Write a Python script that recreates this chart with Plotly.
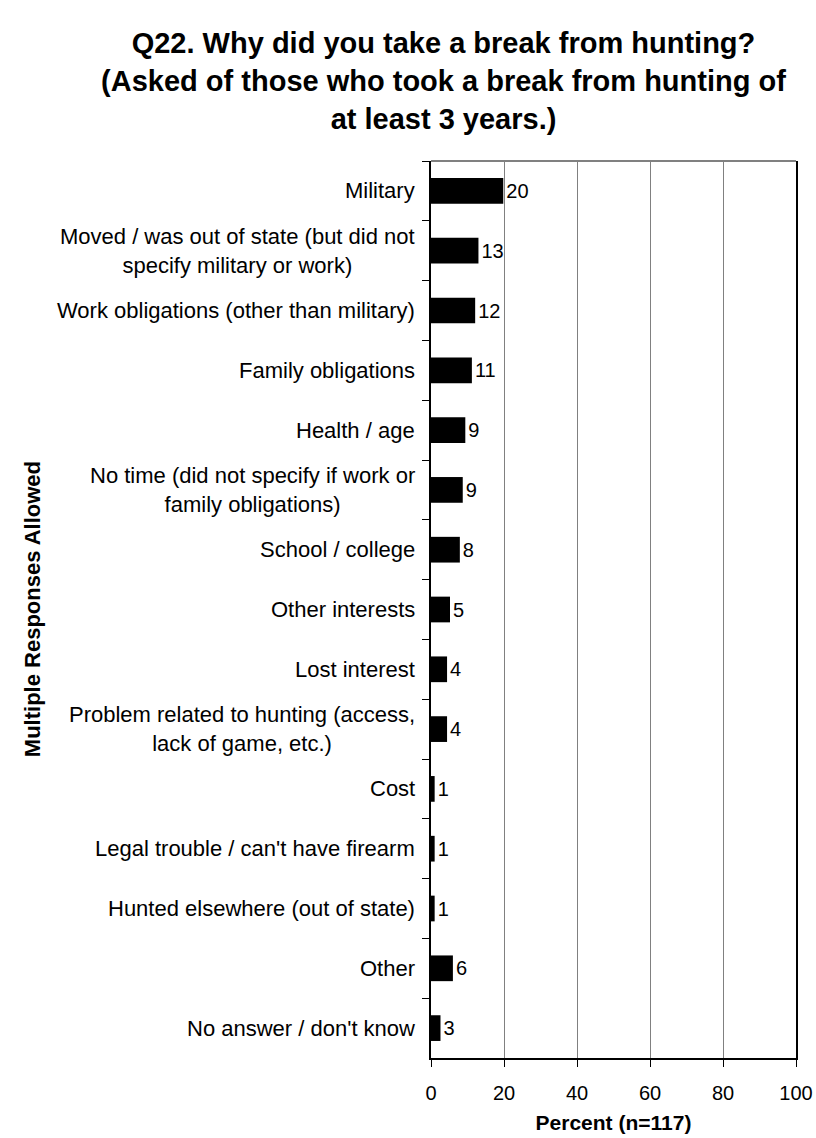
import plotly.graph_objects as go

# Q22 break-from-hunting reasons (percent of n=117)
reasons = [
    "Military",
    "Moved / was out of state (but did not<br>specify military or work)",
    "Work obligations (other than military)",
    "Family obligations",
    "Health / age",
    "No time (did not specify if work or<br>family obligations)",
    "School / college",
    "Other interests",
    "Lost interest",
    "Problem related to hunting (access,<br>lack of game, etc.)",
    "Cost",
    "Legal trouble / can't have firearm",
    "Hunted elsewhere (out of state)",
    "Other",
    "No answer / don't know",
]
percent = [19.8, 13.0, 12.1, 11.2, 9.4, 8.7, 7.9, 5.2, 4.4, 4.4, 1.0, 1.0, 1.0, 6.0, 2.6]
x_ticks = [0, 20, 40, 60, 80, 100]

font_family = "Arial, Liberation Sans, sans-serif"

fig = go.Figure(data=[go.Bar(
    y=reasons,
    x=percent,
    orientation="h",
    width=0.43,
    marker=dict(color="black", line=dict(width=0)),
    text=[str(round(v)) for v in percent],
    textposition="outside",
    cliponaxis=False,
    textfont=dict(family=font_family, size=20, color="black"),
)])

# category labels as annotations so two-line labels are centred like the original
annotations = []
for r in reasons:
    annotations.append(dict(
        xref="paper", yref="y", x=0, y=r, xanchor="right", xshift=-14,
        text=r, showarrow=False, align="center",
        font=dict(family=font_family, size=22, color="black"),
    ))
annotations.append(dict(
    xref="paper", yref="paper", x=-1.131, y=0.5, textangle=-90,
    text="<b>Multiple Responses Allowed</b>", showarrow=False,
    font=dict(family=font_family, size=22, color="black"),
))

fig.update_layout(
    title=dict(
        text="<b>Q22. Why did you take a break from hunting?<br>(Asked of those who took a break from hunting of<br>at least 3 years.)</b>",
        x=0.5435, xanchor="center", y=0.953, yanchor="top",
        font=dict(family=font_family, size=29, color="black"),
    ),
    xaxis=dict(
        range=[0, 100], tickvals=x_ticks, ticks="outside", ticklen=7, tickcolor="black",
        ticklabelstandoff=9, automargin=False,
        showline=True, linecolor="black", linewidth=2,
        showgrid=True, gridcolor="#808080", gridwidth=1, zeroline=False,
        tickfont=dict(family=font_family, size=20, color="black"),
        title=dict(text="<b>Percent (n=117)</b>", standoff=12,
                   font=dict(family=font_family, size=21, color="black")),
    ),
    yaxis=dict(
        autorange="reversed", showticklabels=False, ticks="outside", ticklen=7,
        tickcolor="black", tickson="boundaries", automargin=False,
        showline=True, linecolor="black", linewidth=2, mirror=True,
        showgrid=False, zeroline=False,
    ),
    shapes=[dict(type="line", xref="paper", yref="paper", x0=0, x1=1, y0=1, y1=1,
                 line=dict(color="#808080", width=2))],
    annotations=annotations,
    showlegend=False,
    autosize=False,
    width=816,
    height=1138,
    margin=dict(t=161, r=20, b=80, l=431),
    plot_bgcolor="white",
    paper_bgcolor="white",
)

fig.write_html("out.html", config={"displayModeBar": False},
               post_script="document.body.style.margin='0';")
